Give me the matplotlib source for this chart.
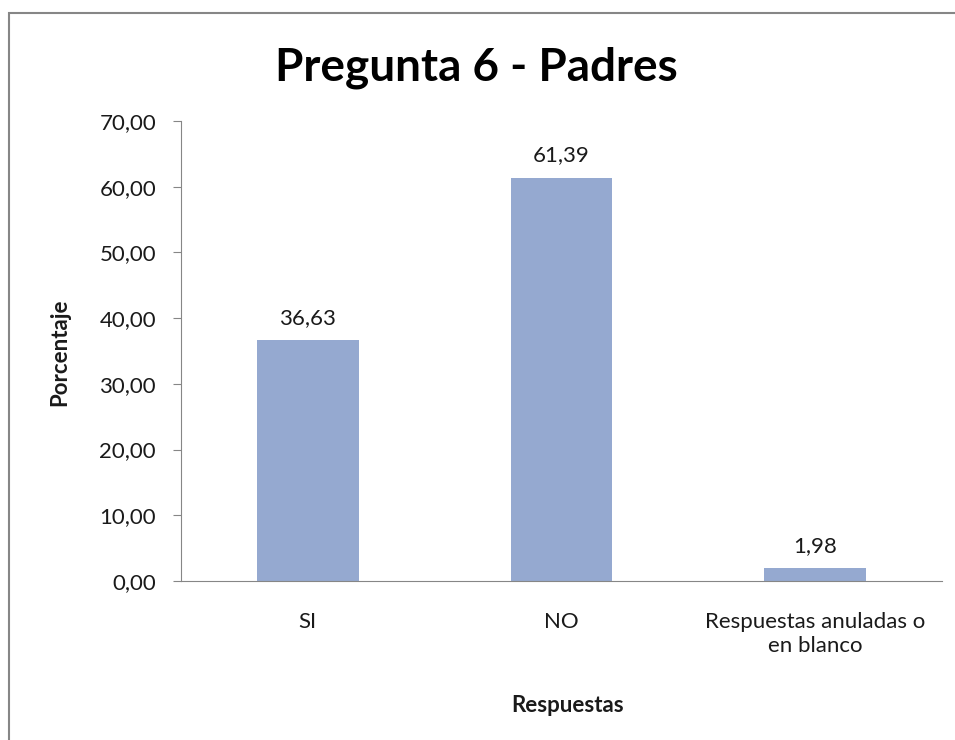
import matplotlib.pyplot as plt
import matplotlib.patches as patches

categories = ['SI', 'NO', 'Respuestas anuladas o\nen blanco']
values = [36.63, 61.39, 1.98]
yticks = [0, 10, 20, 30, 40, 50, 60, 70]

plt.rcParams['font.family'] = ['Lato', 'DejaVu Sans']

fig = plt.figure(figsize=(9.55, 7.40), dpi=100)
fig.patch.set_facecolor('white')

# outer chart frame (clipped on right/bottom like the original)
frame = patches.Rectangle((9 / 955, -0.05), 1.0, 1 - 13 / 740 + 0.05,
                          transform=fig.transFigure, fill=False,
                          edgecolor='#868686', linewidth=1.5)
fig.add_artist(frame)

ax = fig.add_axes([181 / 955, 1 - 581 / 740, (942 - 181) / 955, (581 - 121) / 740])

x = list(range(len(categories)))
ax.bar(x, values, width=0.4, color='#95A9D0', zorder=2)

for xi, v in zip(x, values):
    ax.text(xi, v + 3.4, f"{v:.2f}".replace('.', ','), ha='center', va='center',
            fontsize=16, color='#1a1a1a')

ax.set_xlim(-0.5, len(categories) - 0.5)
ax.set_ylim(0, 70)
ax.set_yticks(yticks)
ax.set_yticklabels([f"{t:.2f}".replace('.', ',') for t in yticks], fontsize=16,
                   color='#1a1a1a')
ax.set_xticks(x)
ax.set_xticklabels(categories, fontsize=16, color='#1a1a1a', linespacing=1.25)
ax.tick_params(axis='x', length=0, pad=22)
ax.tick_params(axis='y', length=6, color='#868686', pad=12)

for side in ['top', 'right']:
    ax.spines[side].set_visible(False)
for side in ['left', 'bottom']:
    ax.spines[side].set_color('#868686')

fig.text(60 / 955, 1 - 352 / 740, 'Porcentaje', ha='center', va='center',
         rotation=90, fontsize=16, fontweight='bold', color='#1a1a1a')
fig.text(568 / 955, 1 - 705 / 740, 'Respuestas', ha='center', va='center',
         fontsize=16, fontweight='bold', color='#1a1a1a')
fig.text(476 / 955, 1 - 68 / 740, 'Pregunta 6 - Padres', ha='center', va='center',
         fontsize=33, fontweight='bold', color='black')

plt.savefig('out.png', dpi=100, facecolor='white')
plt.close()
